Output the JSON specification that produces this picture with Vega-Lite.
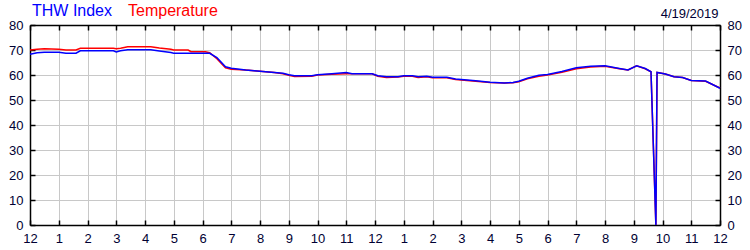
{
  "$schema": "https://vega.github.io/schema/vega-lite/v6.json",
  "width": 690,
  "height": 200,
  "autosize": {"type": "none"},
  "padding": {"left": 30, "top": 25, "right": 30, "bottom": 25},
  "background": "white",
  "data": {"values": [
    {"h": 0, "temp": 70.0, "thw": 68.3},
    {"h": 0.25, "temp": 70.3, "thw": 68.9},
    {"h": 0.5, "temp": 70.5, "thw": 69.1},
    {"h": 1.0, "temp": 70.3, "thw": 69.1},
    {"h": 1.25, "temp": 70.0, "thw": 68.7},
    {"h": 1.6, "temp": 70.0, "thw": 68.7},
    {"h": 1.75, "temp": 70.7, "thw": 69.7},
    {"h": 2.9, "temp": 70.7, "thw": 69.7},
    {"h": 3.0, "temp": 70.5, "thw": 69.2},
    {"h": 3.15, "temp": 70.7, "thw": 69.7},
    {"h": 3.4, "temp": 71.3, "thw": 70.1},
    {"h": 4.2, "temp": 71.3, "thw": 70.1},
    {"h": 4.5, "temp": 70.8, "thw": 69.6},
    {"h": 4.9, "temp": 70.3, "thw": 69.0},
    {"h": 5.0, "temp": 70.0, "thw": 68.7},
    {"h": 5.5, "temp": 70.0, "thw": 68.7},
    {"h": 5.6, "temp": 69.3, "thw": 68.7},
    {"h": 6.1, "temp": 69.3, "thw": 68.7},
    {"h": 6.25, "temp": 68.9, "thw": 68.7},
    {"h": 6.5, "temp": 66.5, "thw": 67.0},
    {"h": 6.8, "temp": 62.9, "thw": 63.3},
    {"h": 7.0, "temp": 62.3, "thw": 62.7},
    {"h": 7.5, "temp": 62.0, "thw": 62.0},
    {"h": 8.0, "temp": 61.5, "thw": 61.5},
    {"h": 8.5, "temp": 61.0, "thw": 61.0},
    {"h": 8.8, "temp": 60.5, "thw": 60.7},
    {"h": 9.0, "temp": 59.9, "thw": 60.1},
    {"h": 9.2, "temp": 59.4, "thw": 59.7},
    {"h": 9.8, "temp": 59.5, "thw": 59.7},
    {"h": 10.0, "temp": 60.0, "thw": 60.1},
    {"h": 10.5, "temp": 60.3, "thw": 60.5},
    {"h": 11.0, "temp": 60.5, "thw": 61.0},
    {"h": 11.2, "temp": 60.5, "thw": 60.5},
    {"h": 11.9, "temp": 60.5, "thw": 60.5},
    {"h": 12.1, "temp": 59.5, "thw": 59.7},
    {"h": 12.4, "temp": 59.0, "thw": 59.3},
    {"h": 12.8, "temp": 59.2, "thw": 59.3},
    {"h": 13.0, "temp": 59.5, "thw": 59.7},
    {"h": 13.3, "temp": 59.5, "thw": 59.7},
    {"h": 13.5, "temp": 59.0, "thw": 59.3},
    {"h": 13.8, "temp": 59.3, "thw": 59.5},
    {"h": 14.0, "temp": 58.9, "thw": 59.1},
    {"h": 14.5, "temp": 58.9, "thw": 59.1},
    {"h": 14.8, "temp": 58.2, "thw": 58.4},
    {"h": 15.5, "temp": 57.5, "thw": 57.7},
    {"h": 16.0, "temp": 57.0, "thw": 57.1},
    {"h": 16.5, "temp": 56.8, "thw": 56.8},
    {"h": 16.8, "temp": 56.9, "thw": 57.0},
    {"h": 17.0, "temp": 57.3, "thw": 57.5},
    {"h": 17.3, "temp": 58.5, "thw": 58.7},
    {"h": 17.7, "temp": 59.5, "thw": 59.9},
    {"h": 18.0, "temp": 60.0, "thw": 60.2},
    {"h": 18.5, "temp": 61.1, "thw": 61.4},
    {"h": 19.0, "temp": 62.5, "thw": 62.9},
    {"h": 19.5, "temp": 63.2, "thw": 63.5},
    {"h": 20.0, "temp": 63.5, "thw": 63.7},
    {"h": 20.5, "temp": 62.5, "thw": 62.6},
    {"h": 20.8, "temp": 62.0, "thw": 62.0},
    {"h": 21.1, "temp": 63.7, "thw": 63.7},
    {"h": 21.4, "temp": 62.5, "thw": 62.6},
    {"h": 21.6, "temp": 61.3, "thw": 61.3},
    {"h": 21.77, "temp": 0, "thw": 0},
    {"h": 21.81, "temp": 61.0, "thw": 61.0},
    {"h": 22.1, "temp": 60.4, "thw": 60.4},
    {"h": 22.4, "temp": 59.3, "thw": 59.3},
    {"h": 22.7, "temp": 59.0, "thw": 59.0},
    {"h": 23.0, "temp": 57.8, "thw": 57.8},
    {"h": 23.5, "temp": 57.5, "thw": 57.6},
    {"h": 24.0, "temp": 54.8, "thw": 54.7}
  ]},
  "layer": [
    {
      "mark": {"type": "line", "strokeWidth": 1.5, "interpolate": "linear"},
      "encoding": {
        "x": {"field": "h", "type": "quantitative",
              "scale": {"domain": [0, 24], "nice": false},
              "axis": {"orient": "bottom", "title": null, "values": [0,1,2,3,4,5,6,7,8,9,10,11,12,13,14,15,16,17,18,19,20,21,22,23,24],
                       "labelExpr": "datum.value % 12 == 0 ? '12' : '' + (datum.value % 12)",
                       "grid": true, "labelPadding": 12, "labelFlush": false, "labelOverlap": false}},
        "y": {"field": "temp", "type": "quantitative",
              "scale": {"domain": [0, 80], "nice": false},
              "axis": {"orient": "left", "title": null, "values": [0,10,20,30,40,50,60,70,80], "grid": true, "labelPadding": 12, "labelFlush": false}},
        "color": {"datum": "Temperature", "type": "nominal",
                  "scale": {"domain": ["THW Index", "Temperature"], "range": ["#0000ff", "#ff0000"]},
                  "legend": {"orient": "none", "legendX": -14, "legendY": -22, "direction": "horizontal", "gridAlign": "none",
                             "title": null, "symbolSize": 0, "symbolOpacity": 0, "symbolStrokeWidth": 0, "symbolType": "circle",
                             "labelOffset": 0, "columnPadding": -1, "labelFont": "Liberation Sans", "labelFontSize": 16, "labelLimit": 0,
                             "encode": {"labels": {"update": {"fill": {"signal": "datum.value === 'THW Index' ? '#0000ff' : '#ff0000'"}}}}}}
      }
    },
    {
      "mark": {"type": "line", "strokeWidth": 1.5, "interpolate": "linear"},
      "encoding": {
        "x": {"field": "h", "type": "quantitative",
              "axis": {"orient": "top", "title": null, "values": [0,1,2,3,4,5,6,7,8,9,10,11,12,13,14,15,16,17,18,19,20,21,22,23,24], "labels": false, "grid": false}},
        "y": {"field": "thw", "type": "quantitative",
              "axis": {"orient": "right", "title": "4/19/2019", "titleAngle": 0, "titleAlign": "right", "titleBaseline": "alphabetic",
                       "titleX": -2, "titleY": -8, "titleFont": "Liberation Sans", "titleFontSize": 13, "titleFontWeight": "normal", "titleColor": "#000033",
                       "values": [0,10,20,30,40,50,60,70,80], "grid": false, "labelPadding": 12, "labelFlush": false}},
        "color": {"datum": "THW Index", "type": "nominal"}
      }
    }
  ],
  "resolve": {"axis": {"x": "independent", "y": "independent"}},
  "config": {
    "view": {"stroke": null},
    "axis": {
      "domainColor": "#000000", "domainWidth": 1.5,
      "tickColor": "#000000", "tickWidth": 1.5, "tickSize": -5,
      "gridColor": "#c8c8c8", "gridWidth": 1,
      "labelFont": "Liberation Sans", "labelFontSize": 13, "labelColor": "#000033"
    }
  }
}
